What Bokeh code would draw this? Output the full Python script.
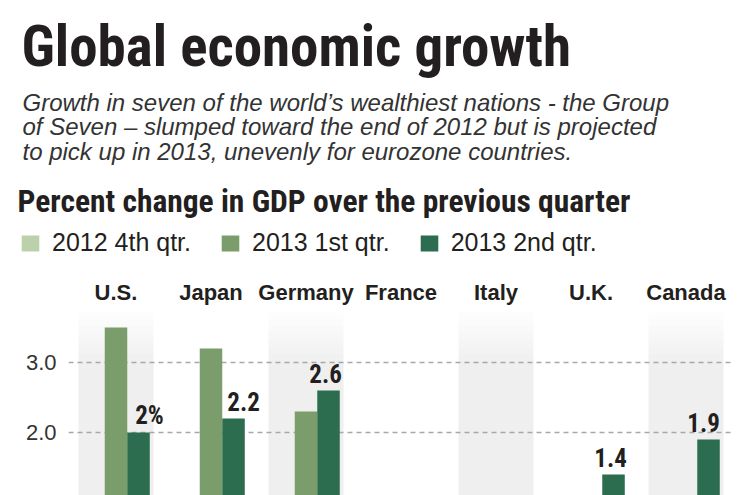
from bokeh.plotting import figure
from bokeh.layouts import column
from bokeh.models import (Label, Legend, LegendItem, FixedTicker, PrintfTickFormatter,
                          ColumnDataSource, FactorRange, Range1d)
from bokeh.transform import dodge
from bokeh.core.properties import value
from bokeh.embed import file_html
from bokeh.resources import INLINE

# ---------------- data ----------------
countries = ["U.S.", "Japan", "Germany", "France", "Italy", "U.K.", "Canada"]
series_names = ["2012 4th qtr.", "2013 1st qtr.", "2013 2nd qtr."]
# values that fall below the cropped bottom of the picture are rough estimates
q4_2012 = [0.1, 0.2, -2.4, -1.2, -3.7, -1.2, 0.6]
q1_2013 = [3.5, 3.2, 2.3, -0.4, -1.4, 0.7, 0.9]
q2_2013 = [2.0, 2.2, 2.6, 0.5, -0.6, 1.4, 1.9]
y_ticks = [0.0, 1.0, 2.0, 3.0]
shaded_countries = ["U.S.", "Germany", "Italy", "Canada"]

title_text = "Global economic growth"
subtitle_lines = [
    "Growth in seven of the world\u2019s wealthiest nations - the Group",
    "of Seven \u2013 slumped toward the end of 2012 but is projected",
    "to pick up in 2013, unevenly for eurozone countries.",
]
heading_text = "Percent change in GDP over the previous quarter"

# ---------------- layout / style ----------------
W = 750
HDR_H = 262
CH_H = 495 - HDR_H
FRAME_LEFT, FRAME_RIGHT, FRAME_TOP = 68, 17, 48
Y_START, Y_END = 1.1, 3.743
BAR_W = 0.237
COLORS = ["#bcd0ab", "#7b9d6b", "#2b6d4e"]
NARROW = "Roboto Condensed, DejaVu Sans Condensed, Liberation Sans"
SANS = "Liberation Sans"
INK = "#231f20"
label_dx = [11, 10, -3, 0, 0, -3, -5]

# value labels (only those whose bar reaches the visible, cropped area)
labels = [(f"{v:g}%" if i == 0 else f"{v:.1f}") if v > Y_START else ""
          for i, v in enumerate(q2_2013)]
source = ColumnDataSource(dict(country=countries, q4=q4_2012, q1=q1_2013, q2=q2_2013,
                               label=labels, dx=label_dx))
cols = ["q4", "q1", "q2"]

# ================= header figure =================
hdr = figure(width=W, height=HDR_H, x_range=FactorRange(*countries),
             y_range=Range1d(100, 101), x_axis_location=None, y_axis_location=None,
             output_backend="svg", toolbar_location=None, title=None,
             min_border=0, outline_line_color=None, frame_align=False)
hdr.grid.visible = False

legend_renderers = [hdr.vbar(x="country", top=c, width=0.2, source=source,
                             fill_color=color, line_color=None)
                    for c, color in zip(cols, COLORS)]

def add_text(text, x, baseline_from_top, font, size, style, color):
    hdr.add_layout(Label(x=x, y=HDR_H - baseline_from_top, x_units="screen", y_units="screen",
                         text=text, text_font=font, text_font_size=size,
                         text_font_style=style, text_color=color,
                         text_baseline="alphabetic", text_align="left"))

add_text(title_text, 21, 46, NARROW, "57px", "bold", INK)
for i, line in enumerate(subtitle_lines):
    add_text(line, 22, 101.5 + i * 24.5, SANS, "24px", "italic", "#333333")
add_text(heading_text, 17, 201, NARROW, "31.5px", "bold", INK)

legend = Legend(items=[LegendItem(label=n, renderers=[r])
                       for n, r in zip(series_names, legend_renderers)],
                orientation="horizontal", location=(19, 5),
                glyph_width=22, glyph_height=20, label_height=20, label_standoff=11,
                spacing=28, padding=0, margin=0, border_line_color=None,
                background_fill_alpha=0, label_text_font=SANS,
                label_text_font_size="25px", label_text_color=INK,
                label_text_line_height=0.8)
hdr.add_layout(legend)

# ================= chart figure =================
p = figure(width=W, height=CH_H, x_range=FactorRange(*countries),
           y_range=Range1d(Y_START, Y_END), x_axis_location="above",
           output_backend="svg", toolbar_location=None, title=None,
           min_border_left=FRAME_LEFT, min_border_right=FRAME_RIGHT,
           min_border_top=FRAME_TOP, min_border_bottom=0, outline_line_color=None,
           frame_align=False)

# column shading, fading towards the top
SHADE_TOP, SHADE_STEP, N_SHADE = 3.72, 0.1, 8
for k in range(N_SHADE):
    p.vbar(x=shaded_countries, top=SHADE_TOP - k * SHADE_STEP, bottom=Y_START - 2,
           width=0.79, fill_color="#d8d8d8", fill_alpha=0.05, line_color=None,
           level="image")

offsets = [-BAR_W, 0.0, BAR_W]
for col, off, color in zip(cols, offsets, COLORS):
    p.vbar(x=dodge("country", off, range=p.x_range), top=col, bottom=0,
           width=BAR_W, source=source, fill_color=color, line_color=None)

p.text(x=dodge("country", BAR_W, range=p.x_range), y="q2", text="label",
       x_offset="dx", y_offset=-17, source=source, text_align="center",
       text_baseline="alphabetic", text_font=value(NARROW), text_font_style="bold",
       text_font_size="25px", text_color=INK)

xa = p.xaxis[0]
xa.axis_line_color = None
xa.major_tick_line_color = None
xa.minor_tick_line_color = None
xa.major_tick_out = 0
xa.major_tick_in = 0
xa.major_label_text_font = SANS
xa.major_label_text_font_style = "bold"
xa.major_label_text_font_size = "22px"
xa.major_label_text_color = INK
xa.major_label_standoff = 6

ticker = FixedTicker(ticks=y_ticks)
ya = p.yaxis[0]
ya.ticker = ticker
ya.formatter = PrintfTickFormatter(format="%.1f")
ya.axis_line_color = None
ya.major_tick_line_color = None
ya.minor_tick_line_color = None
ya.major_tick_out = 0
ya.major_tick_in = 0
ya.major_label_text_font = SANS
ya.major_label_text_font_size = "22px"
ya.major_label_text_color = "#333333"
ya.major_label_standoff = 12

p.xgrid.visible = False
p.ygrid.ticker = ticker
p.ygrid.grid_line_color = "#a8a8a8"
p.ygrid.grid_line_dash = "5 4"
p.ygrid.grid_line_width = 1.5

layout = column(hdr, p, spacing=0)
open("out.html", "w").write(file_html(layout, INLINE))
